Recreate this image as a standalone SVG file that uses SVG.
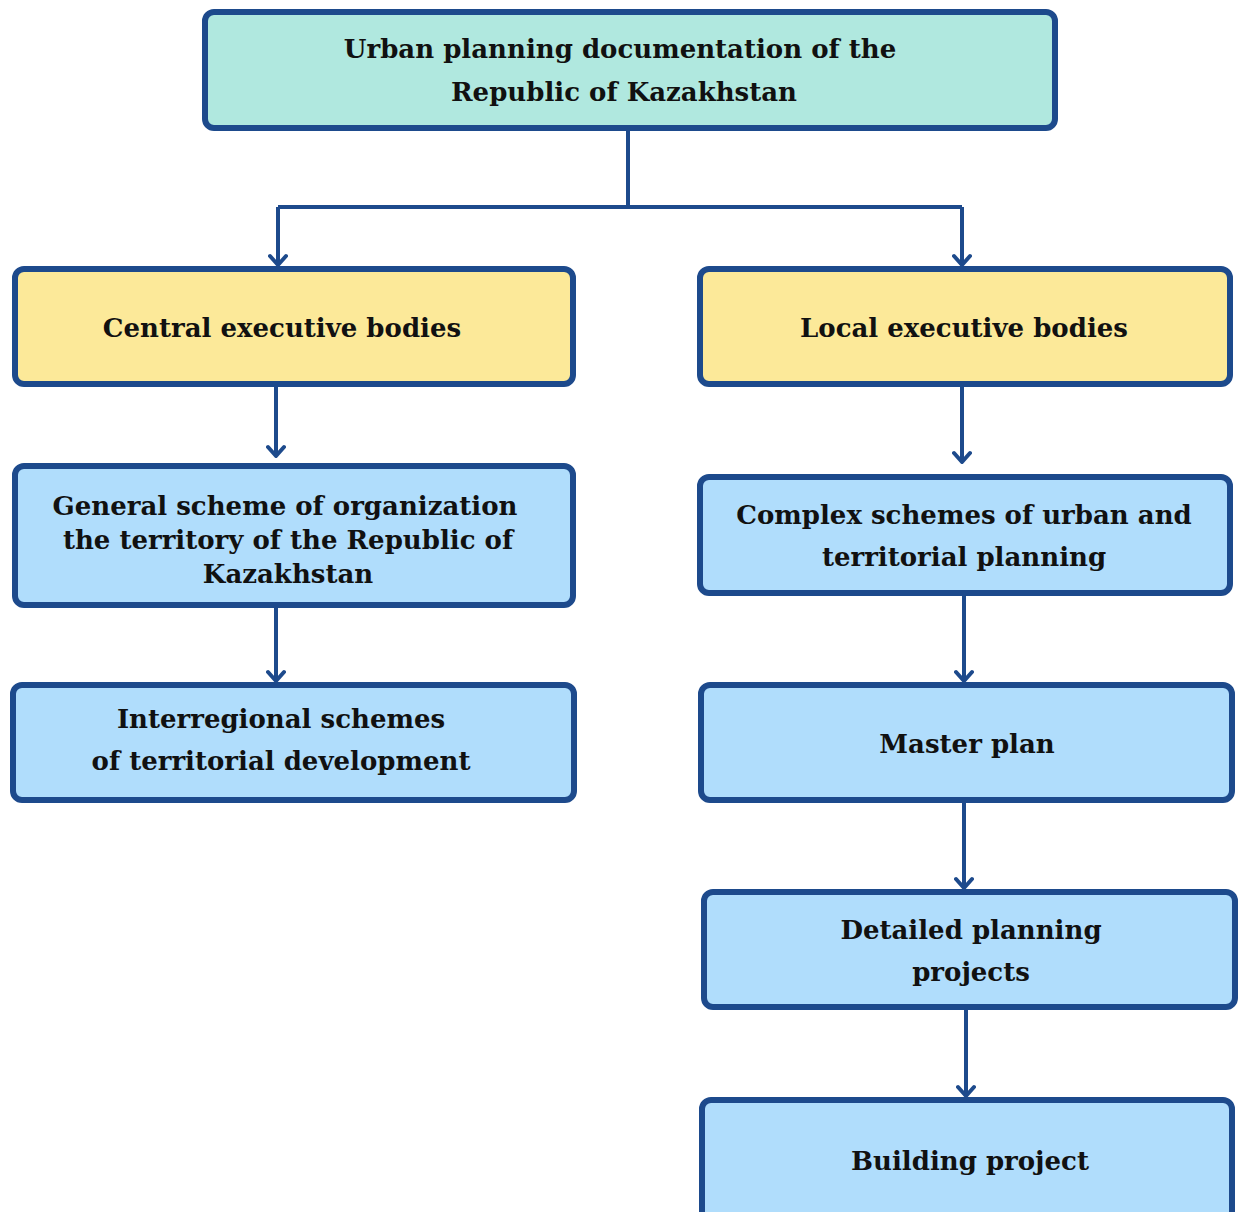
<svg xmlns="http://www.w3.org/2000/svg" width="1243" height="1212" viewBox="0 0 1243 1212">
<style>
.box{stroke:#1d4a8c;stroke-width:6;}
.top{fill:#b0e8df;}
.yel{fill:#fce999;}
.blue{fill:#b0ddfc;}
text{font-family:"DejaVu Serif","Liberation Serif",serif;font-weight:bold;font-size:26px;fill:#111;text-anchor:middle;}
.conn{fill:none;stroke:#1d4a8c;stroke-width:4;}
</style>
<defs>
<marker id="arr" markerWidth="14" markerHeight="20" viewBox="0 0 14 20" refX="12" refY="10" orient="auto" markerUnits="userSpaceOnUse">
<path d="M3,2 L12,10 L3,18" fill="none" stroke="#1d4a8c" stroke-width="4" stroke-linecap="round" stroke-linejoin="round"/>
</marker>
</defs>
<rect width="1243" height="1212" fill="#fff"/>
<g id="connectors">
<path class="conn" d="M628 128 V207 M278 207 H962"/>
<path class="conn" d="M278 207 V265" marker-end="url(#arr)"/>
<path class="conn" d="M962 207 V265" marker-end="url(#arr)"/>
<path class="conn" d="M276 384 V456" marker-end="url(#arr)"/>
<path class="conn" d="M962 384 V462" marker-end="url(#arr)"/>
<path class="conn" d="M276 605 V681" marker-end="url(#arr)"/>
<path class="conn" d="M964 593 V681" marker-end="url(#arr)"/>
<path class="conn" d="M964 800 V888" marker-end="url(#arr)"/>
<path class="conn" d="M966 1007 V1096" marker-end="url(#arr)"/>
</g>
<g id="n-top"><rect class="box top" x="205" y="12" width="850" height="116" rx="9"/>
<text x="620" y="58">Urban planning documentation of the</text><text x="624" y="101">Republic of Kazakhstan</text></g>
<g id="n-central"><rect class="box yel" x="15" y="269" width="558" height="115" rx="9"/>
<text x="282" y="337">Central executive bodies</text></g>
<g id="n-local"><rect class="box yel" x="700" y="269" width="530" height="115" rx="9"/>
<text x="964" y="337">Local executive bodies</text></g>
<g id="n-general"><rect class="box blue" x="15" y="466" width="558" height="139" rx="9"/>
<text x="285" y="515">General scheme of organization</text><text x="288" y="549">the territory of the Republic of</text><text x="288" y="583">Kazakhstan</text></g>
<g id="n-inter"><rect class="box blue" x="13" y="685" width="561" height="115" rx="9"/>
<text x="281" y="728">Interregional schemes</text><text x="281" y="770">of territorial development</text></g>
<g id="n-complex"><rect class="box blue" x="700" y="477" width="530" height="116" rx="9"/>
<text x="964" y="524">Complex schemes of urban and</text><text x="964" y="566">territorial planning</text></g>
<g id="n-master"><rect class="box blue" x="701" y="685" width="531" height="115" rx="9"/>
<text x="967" y="753">Master plan</text></g>
<g id="n-detailed"><rect class="box blue" x="704" y="892" width="531" height="115" rx="9"/>
<text x="971" y="939">Detailed planning</text><text x="971" y="981">projects</text></g>
<g id="n-building"><rect class="box blue" x="702" y="1100" width="530" height="130" rx="9"/>
<text x="970" y="1170">Building project</text></g>
</svg>
